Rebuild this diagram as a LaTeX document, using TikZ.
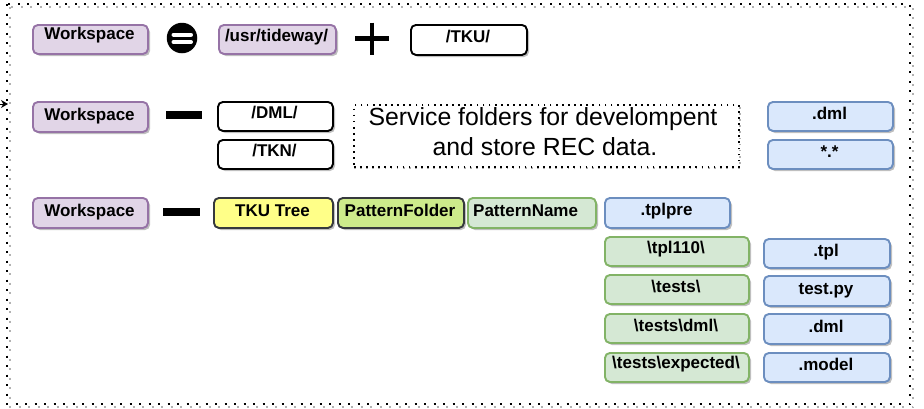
\documentclass[tikz,border=0pt]{standalone}
\usepackage{fontspec}
\setmainfont{Liberation Sans}
\usetikzlibrary{arrows.meta}
\definecolor{purF}{HTML}{E1D5E7}
\definecolor{purS}{HTML}{9673A6}
\definecolor{yelF}{HTML}{FFFF88}
\definecolor{darkS}{HTML}{36393D}
\definecolor{grnF}{HTML}{CDEB8B}
\definecolor{lgrF}{HTML}{D5E8D4}
\definecolor{lgrS}{HTML}{82B366}
\definecolor{bluF}{HTML}{DAE8FC}
\definecolor{bluS}{HTML}{6C8EBF}
\tikzset{
  bxbase/.style={draw, line width=1.9pt, rounded corners=5pt, inner sep=0pt, anchor=north west},
  pur/.style={bxbase, fill=purF, draw=purS},
  wht/.style={bxbase, fill=white, draw=black},
  yel/.style={bxbase, fill=yelF, draw=darkS},
  grn/.style={bxbase, fill=grnF, draw=darkS},
  lgr/.style={bxbase, fill=lgrF, draw=lgrS},
  blu/.style={bxbase, fill=bluF, draw=bluS},
  shd/.style={fill=black!25, rounded corners=5pt},
  lbl/.style={font=\fontsize{17}{20}\selectfont\bfseries, inner sep=0pt, anchor=base},
  svctext/.style={font=\fontsize{24.8}{28}\selectfont, inner sep=0pt, anchor=base},
  frame/.style={line width=2pt, dash pattern=on 2pt off 7.5pt},
  svcframe/.style={line width=1.7pt, dash pattern=on 1.7pt off 4.4pt},
  barsign/.style={fill=black},
}
% name, style, x1, y1, x2, y2, baseline, text
\newcommand\bxx[8]{%
  \fill[shd] (#3+3,#4+3) rectangle (#5+3,#6+3);
  \node[#2, minimum width={(#5-#3)*1pt}, minimum height={(#6-#4)*1pt}] (#1) at (#3,#4) {};
  \node[lbl] (#1t) at ({(#3+#5)/2},#7) {#8};
}
\newcommand\bxn[7]{%
  \fill[shd] (#3+3,#4+3) rectangle (#5+3,#6+3);
  \node[#2, minimum width={(#5-#3)*1pt}, minimum height={(#6-#4)*1pt}] (#1) at (#3,#4) {};
}
\begin{document}
\begin{tikzpicture}[x=1pt,y=-1pt]
\useasboundingbox (0,0) rectangle (924,408);
% outer frame
\draw[frame, draw=black!30] (10,7) rectangle (913,407);
\draw[frame] (7,4) rectangle (910,404);
\coordinate (arrS) at (-2,104);
\coordinate (arrE) at (8,104);
\draw[-{Stealth[length=7pt,width=8pt]}, line width=1pt] (arrS) -- (arrE);

% row 1
\bxx{ws1}{pur}{32}{24}{147}{53}{39}{Workspace}
\node[circle, fill=black, minimum size=30.5pt, inner sep=0pt] (eq) at (182,38) {};
\draw[white, line width=4pt, line cap=round] (173.5,34.7) -- (191,34.7);
\draw[white, line width=4pt, line cap=round] (173.5,42) -- (191,42);
\bxx{usr}{pur}{218}{24}{335}{53}{41}{/usr/tideway/}
\draw[line width=4.6pt] (355,38.5) -- (389,38.5);
\draw[line width=4.6pt] (372,22.5) -- (372,55);
\bxx{tku}{wht}{410}{24}{526}{54}{42}{/TKU/}

% row 2
\bxx{ws2}{pur}{32}{101}{147}{131}{120}{Workspace}
\fill[barsign] (166,111) rectangle (202,119);
\bxx{dml}{wht}{217}{101}{332}{130}{118}{/DML/}
\bxx{tkn}{wht}{217}{139}{332}{168}{156}{/TKN/}
\draw[svcframe, draw=black!30] (355,106) rectangle (740,168);
\node[svcframe, draw=black, fill=white, anchor=north west, inner sep=0pt, minimum width=385pt, minimum height=62pt] (svc) at (353,104) {};
\node[svctext] (svct1) at (543,125) {Service folders for develompent};
\node[svctext] (svct2) at (545,155) {and store REC data.};
\bxx{dmlx}{blu}{767}{101}{892}{130}{119}{.dml}
\bxx{star}{blu}{767}{139}{892}{168}{157}{*.*}

% row 3
\bxx{ws3}{pur}{32}{197}{147}{227}{216}{Workspace}
\fill[barsign] (163,208) rectangle (200,216);
\bxx{tree}{yel}{213}{197}{332}{227}{216}{TKU Tree}
\bxx{pfold}{grn}{337}{197}{463}{227}{216}{PatternFolder}
\bxn{pname}{lgr}{467}{197}{595}{227}{216}
\node[lbl, anchor=base west] (pnamet) at (473,216) {PatternName};
\bxx{tplpre}{blu}{604}{197}{729}{227}{215}{.tplpre}
\bxx{tpl110}{lgr}{604}{236}{748}{265}{253}{\textbackslash tpl110\textbackslash}
\bxx{tests}{lgr}{604}{274}{748}{303}{292}{\textbackslash tests\textbackslash}
\bxx{testsdml}{lgr}{604}{313}{748}{342}{331}{\textbackslash tests\textbackslash dml\textbackslash}
\bxx{testsexp}{lgr}{604}{352}{748}{381}{368}{\textbackslash tests\textbackslash expected\textbackslash}
\bxx{tpl}{blu}{763}{238}{889}{267}{256}{.tpl}
\bxx{testpy}{blu}{763}{275}{889}{305}{294}{test.py}
\bxx{dmltwo}{blu}{763}{313}{889}{343}{332}{.dml}
\bxx{model}{blu}{763}{352}{889}{381}{370}{.model}
\end{tikzpicture}
\end{document}
